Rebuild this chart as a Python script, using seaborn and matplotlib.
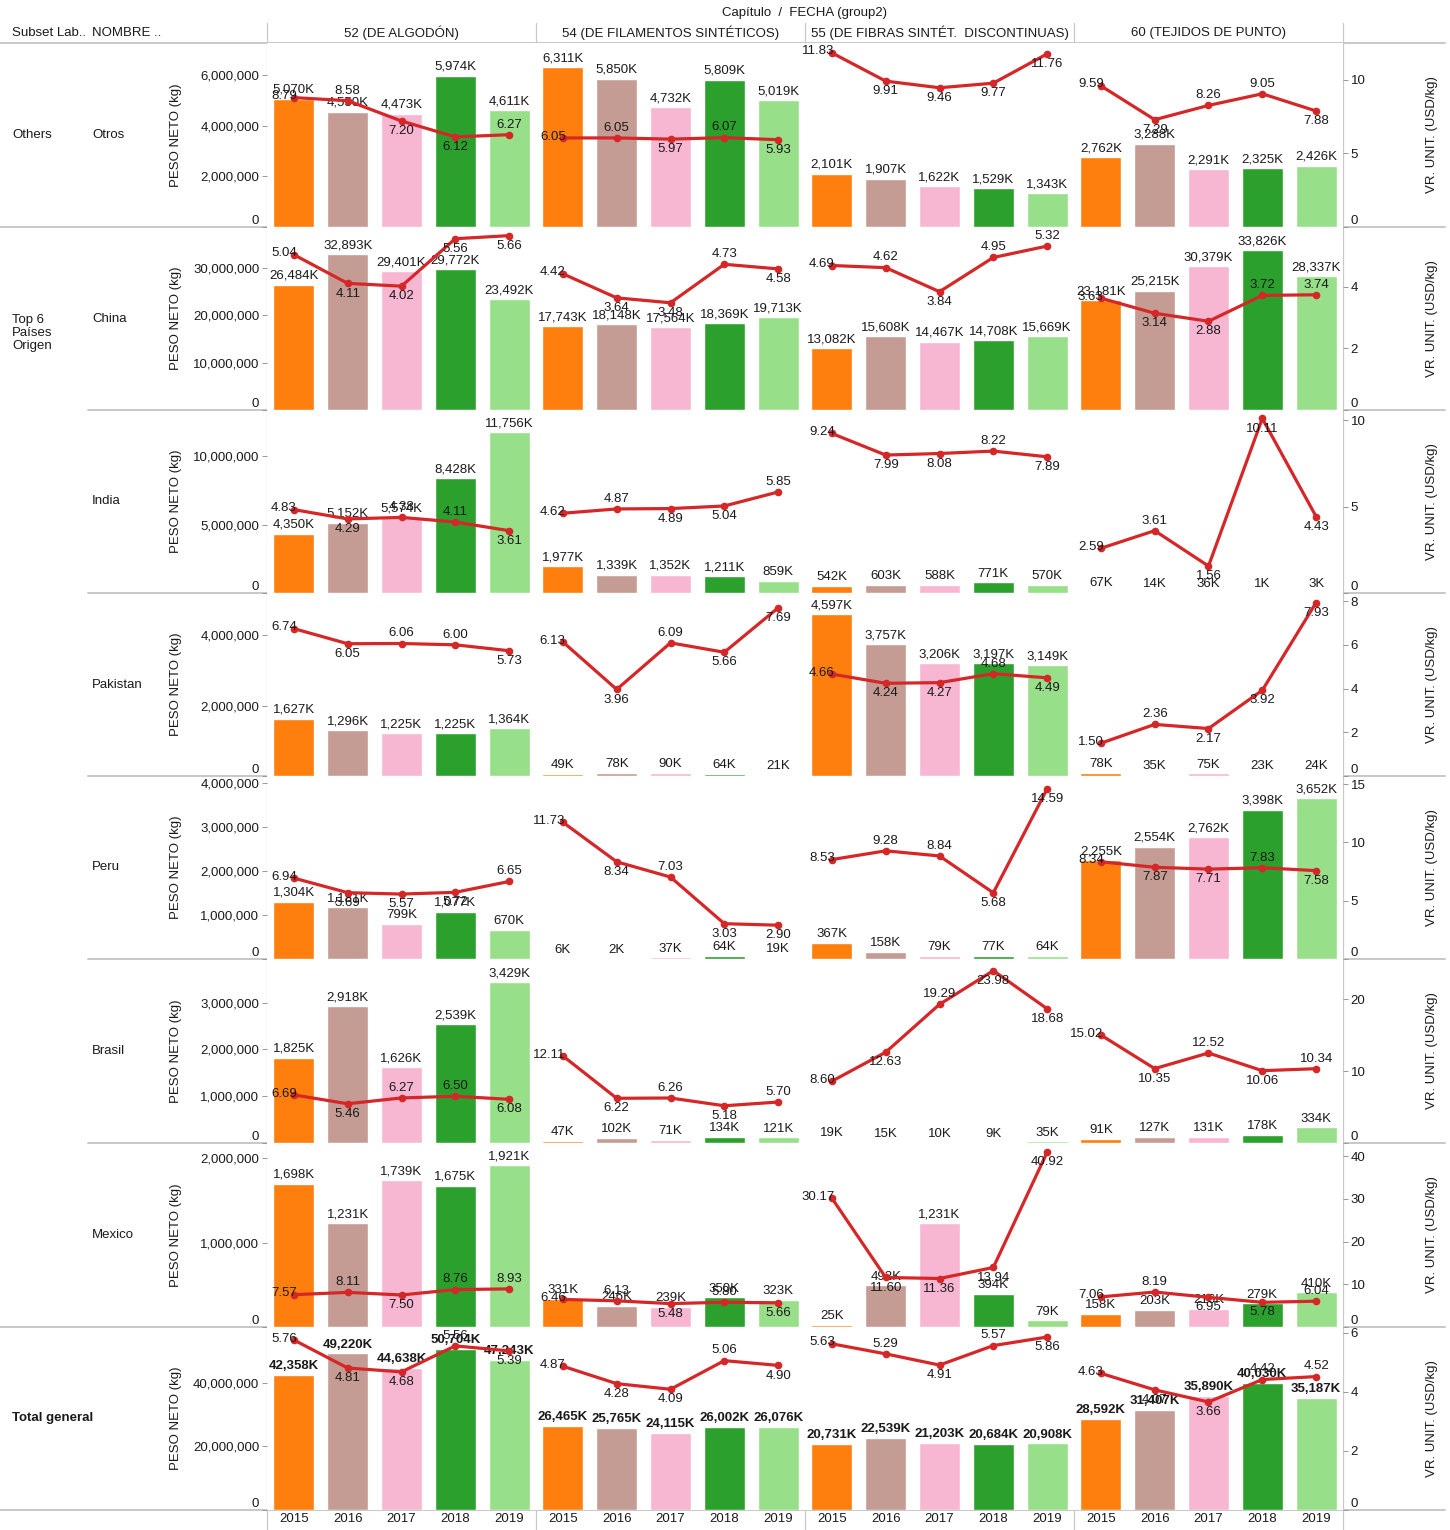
import matplotlib
matplotlib.use("Agg")
import matplotlib.pyplot as plt
import seaborn as sns
import pandas as pd
import numpy as np
from matplotlib.lines import Line2D
from matplotlib.ticker import FixedLocator, FuncFormatter

sns.set_theme(style="white")
plt.rcParams['font.family'] = ['Liberation Sans', 'DejaVu Sans']

# ---- datos ----
years = ["2015", "2016", "2017", "2018", "2019"]
chapters = ["52 (DE ALGODÓN)", "54 (DE FILAMENTOS SINTÉTICOS)",
            "55 (DE FIBRAS SINTÉT.  DISCONTINUAS)", "60 (TEJIDOS DE PUNTO)"]
countries = ["Otros", "China", "India", "Pakistan", "Peru", "Brasil", "Mexico", "Total general"]

# peso neto en miles de kg (una lista por capitulo: 52, 54, 55, 60)
peso_otros = [[5070, 4550, 4473, 5974, 4611], [6311, 5850, 4732, 5809, 5019],
              [2101, 1907, 1622, 1529, 1343], [2762, 3288, 2291, 2325, 2426]]
peso_china = [[26484, 32893, 29401, 29772, 23492], [17743, 18148, 17564, 18369, 19713],
              [13082, 15608, 14467, 14708, 15669], [23181, 25215, 30379, 33826, 28337]]
peso_india = [[4350, 5152, 5574, 8428, 11756], [1977, 1339, 1352, 1211, 859],
              [542, 603, 588, 771, 570], [67, 14, 36, 1, 3]]
peso_pakistan = [[1627, 1296, 1225, 1225, 1364], [49, 78, 90, 64, 21],
                 [4597, 3757, 3206, 3197, 3149], [78, 35, 75, 23, 24]]
peso_peru = [[1304, 1181, 799, 1077, 670], [6, 2, 37, 64, 19],
             [367, 158, 79, 77, 64], [2255, 2554, 2762, 3398, 3652]]
peso_brasil = [[1825, 2918, 1626, 2539, 3429], [47, 102, 71, 134, 121],
               [19, 15, 10, 9, 35], [91, 127, 131, 178, 334]]
peso_mexico = [[1698, 1231, 1739, 1675, 1921], [331, 246, 239, 350, 323],
               [25, 492, 1231, 394, 79], [158, 203, 216, 279, 410]]
peso_total = [[42358, 49220, 44638, 50704, 47243], [26465, 25765, 24115, 26002, 26076],
              [20731, 22539, 21203, 20684, 20908], [28592, 31407, 35890, 40030, 35187]]

# valor unitario USD/kg
vr_otros = [[8.79, 8.58, 7.20, 6.12, 6.27], [6.05, 6.05, 5.97, 6.07, 5.93],
            [11.83, 9.91, 9.46, 9.77, 11.76], [9.59, 7.29, 8.26, 9.05, 7.88]]
vr_china = [[5.04, 4.11, 4.02, 5.56, 5.66], [4.42, 3.64, 3.48, 4.73, 4.58],
            [4.69, 4.62, 3.84, 4.95, 5.32], [3.63, 3.14, 2.88, 3.72, 3.74]]
vr_india = [[4.83, 4.29, 4.38, 4.11, 3.61], [4.62, 4.87, 4.89, 5.04, 5.85],
            [9.24, 7.99, 8.08, 8.22, 7.89], [2.59, 3.61, 1.56, 10.11, 4.43]]
vr_pakistan = [[6.74, 6.05, 6.06, 6.00, 5.73], [6.13, 3.96, 6.09, 5.66, 7.69],
               [4.66, 4.24, 4.27, 4.68, 4.49], [1.50, 2.36, 2.17, 3.92, 7.93]]
vr_peru = [[6.94, 5.69, 5.57, 5.72, 6.65], [11.73, 8.34, 7.03, 3.03, 2.90],
           [8.53, 9.28, 8.84, 5.68, 14.59], [8.34, 7.87, 7.71, 7.83, 7.58]]
vr_brasil = [[6.69, 5.46, 6.27, 6.50, 6.08], [12.11, 6.22, 6.26, 5.18, 5.70],
             [8.60, 12.63, 19.29, 23.98, 18.68], [15.02, 10.35, 12.52, 10.06, 10.34]]
vr_mexico = [[7.57, 8.11, 7.50, 8.76, 8.93], [6.46, 6.13, 5.48, 5.80, 5.66],
             [30.17, 11.60, 11.36, 13.94, 40.92], [7.06, 8.19, 6.95, 5.78, 6.04]]
vr_total = [[5.76, 4.81, 4.68, 5.56, 5.39], [4.87, 4.28, 4.09, 5.06, 4.90],
            [5.63, 5.29, 4.91, 5.57, 5.86], [4.63, 4.07, 3.66, 4.42, 4.52]]

row_peso = [peso_otros, peso_china, peso_india, peso_pakistan, peso_peru, peso_brasil, peso_mexico, peso_total]
row_vr = [vr_otros, vr_china, vr_india, vr_pakistan, vr_peru, vr_brasil, vr_mexico, vr_total]

# ---- escalas por fila ----
peso_top = [7.26e6, 38.7e6, 13.4e6, 5.2e6, 4.16e6, 3.93e6, 2.18e6, 57.5e6]
peso_ticks = [[0, 2e6, 4e6, 6e6], [0, 10e6, 20e6, 30e6], [0, 5e6, 10e6], [0, 2e6, 4e6],
              [0, 1e6, 2e6, 3e6, 4e6], [0, 1e6, 2e6, 3e6], [0, 1e6, 2e6], [0, 20e6, 40e6]]
vr_top = [12.5, 5.94, 10.6, 8.37, 15.7, 25.6, 43.1, 6.2]
vr_ticks = [[0, 5, 10], [0, 2, 4], [0, 5, 10], [0, 2, 4, 6, 8], [0, 5, 10, 15],
            [0, 10, 20], [0, 10, 20, 30, 40], [0, 2, 4, 6]]

year_colors = ["#FF7F0E", "#C49C94", "#F7B6D2", "#2CA02C", "#98DF8A"]
red = "#D62728"
grid_c = "#c8c8c8"
txt_c = "#1a1a1a"
FS = 9.5

# ---- layout en pixeles ----
W, H = 1450, 1530
row_edges = [43, 227, 410, 593, 776, 959, 1143, 1327, 1510]
col_edges = [267, 536, 805, 1074, 1343]


def rect(x0, y0, x1, y1):
    return [x0 / W, 1 - y1 / H, (x1 - x0) / W, (y1 - y0) / H]


def hline(y, x0, x1, lw=1.4):
    fig.add_artist(Line2D([x0 / W, x1 / W], [1 - y / H, 1 - y / H], transform=fig.transFigure,
                          color=grid_c, lw=lw, zorder=0))


def vline(x, y0, y1, lw=0.9):
    fig.add_artist(Line2D([x / W, x / W], [1 - y0 / H, 1 - y1 / H], transform=fig.transFigure,
                          color=grid_c, lw=lw, zorder=0))


def ftext(x, y, s, **kw):
    kw.setdefault("fontsize", FS)
    kw.setdefault("color", txt_c)
    fig.text(x / W, 1 - y / H, s, **kw)


fig = plt.figure(figsize=(14.5, 15.3), dpi=100)

for i in range(8):
    bold = "bold" if i == 7 else "normal"
    for j in range(4):
        ax = fig.add_axes(rect(col_edges[j], row_edges[i], col_edges[j + 1], row_edges[i + 1]))
        df = pd.DataFrame({"year": years, "peso": np.array(row_peso[i][j]) * 1000})
        sns.barplot(data=df, x="year", y="peso", hue="year", palette=year_colors,
                    saturation=1, width=0.76, legend=False, ax=ax)
        ax2 = ax.twinx()
        vr = row_vr[i][j]
        sns.lineplot(x=np.arange(5), y=vr, ax=ax2, color=red, lw=2.3, marker="o",
                     markersize=5.5, markeredgewidth=0)
        ax.set_xlim(-0.5, 4.5)
        ax.set_ylim(0, peso_top[i])
        ax2.set_ylim(0, vr_top[i])
        for a in (ax, ax2):
            a.set_xlabel("")
            a.set_ylabel("")
            for s in a.spines.values():
                s.set_visible(False)

        # etiquetas de barras
        for k, v in enumerate(row_peso[i][j]):
            ax.annotate(f"{v:,}K", (k, v * 1000), xytext=(0, 2), textcoords="offset points",
                        ha="center", va="bottom", fontsize=FS, color=txt_c, fontweight=bold,
                        annotation_clip=False)

        # etiquetas de la linea
        for k, v in enumerate(vr):
            if k == 0:
                ha, va, off = "right", "center", (2, 1)
            else:
                if k == 4:
                    up = v >= vr[k - 1]
                else:
                    up = v >= (vr[k - 1] + vr[k + 1]) / 2
                if v > 0.9 * vr_top[i]:
                    up = False
                ha = "center"
                va, off = ("bottom", (0, 3)) if up else ("top", (0, -3))
            ax2.annotate(f"{v:.2f}", (k, v), xytext=off, textcoords="offset points",
                         ha=ha, va=va, fontsize=FS, color=txt_c, annotation_clip=False)

        # ejes
        ax.tick_params(axis="x", bottom=False, length=0, labelbottom=(i == 7), labelsize=FS,
                       pad=2, colors=txt_c)
        if j == 0:
            ax.yaxis.set_major_locator(FixedLocator(peso_ticks[i]))
            ax.yaxis.set_major_formatter(FuncFormatter(lambda x, p: f"{x:,.0f}"))
            ax.tick_params(axis="y", left=True, labelleft=True, length=3.5, width=0.7,
                           color="#999999", pad=2, labelsize=FS, labelcolor=txt_c)
        else:
            ax.tick_params(axis="y", left=False, labelleft=False)
        ax2.tick_params(axis="y", left=False, labelleft=False)
        if j == 3:
            ax2.yaxis.set_major_locator(FixedLocator(vr_ticks[i]))
            ax2.yaxis.set_major_formatter(FuncFormatter(lambda x, p: f"{x:.0f}"))
            ax2.tick_params(axis="y", right=True, labelright=True, length=3.5, width=0.7,
                            color="#999999", pad=2, labelsize=FS, labelcolor=txt_c)
        else:
            ax2.tick_params(axis="y", right=False, labelright=False)

        fig.canvas.draw()
        if j == 0:
            ax.get_yticklabels()[0].set_verticalalignment("bottom")
        if j == 3:
            ax2.get_yticklabels()[0].set_verticalalignment("bottom")

    yc = (row_edges[i] + row_edges[i + 1]) / 2
    ftext(176, yc, "PESO NETO (kg)", rotation=90, ha="center", va="center")
    ftext(1432, yc, "VR. UNIT. (USD/kg)", rotation=90, ha="center", va="center")
    if i < 7:
        ftext(92, yc, countries[i], ha="left", va="center")

# ---- encabezados y etiquetas de fila ----
ftext(805, 13, "Capítulo  /  FECHA (group2)", ha="center", va="center")
for j, c in enumerate(chapters):
    ftext((col_edges[j] + col_edges[j + 1]) / 2, 33, c, ha="center", va="center")
ftext(12, 33, "Subset Lab..", ha="left", va="center")
ftext(92, 33, "NOMBRE ..", ha="left", va="center")
ftext(12, 135, "Others", ha="left", va="center")
ftext(12, 333, "Top 6\nPaíses\nOrigen", ha="left", va="center", linespacing=1.1)
ftext(12, 1418, "Total general", ha="left", va="center", fontweight="bold")

# ---- lineas de la tabla ----
hline(43, 0, 1445)
hline(227, 0, 1445)
for y in row_edges[2:7]:
    hline(y, 88, 1445)
hline(1327, 0, 1445)
hline(1510, 0, 1445)
for x in col_edges:
    vline(x, 23, 1530)

fig.savefig("out.png", dpi=100)
